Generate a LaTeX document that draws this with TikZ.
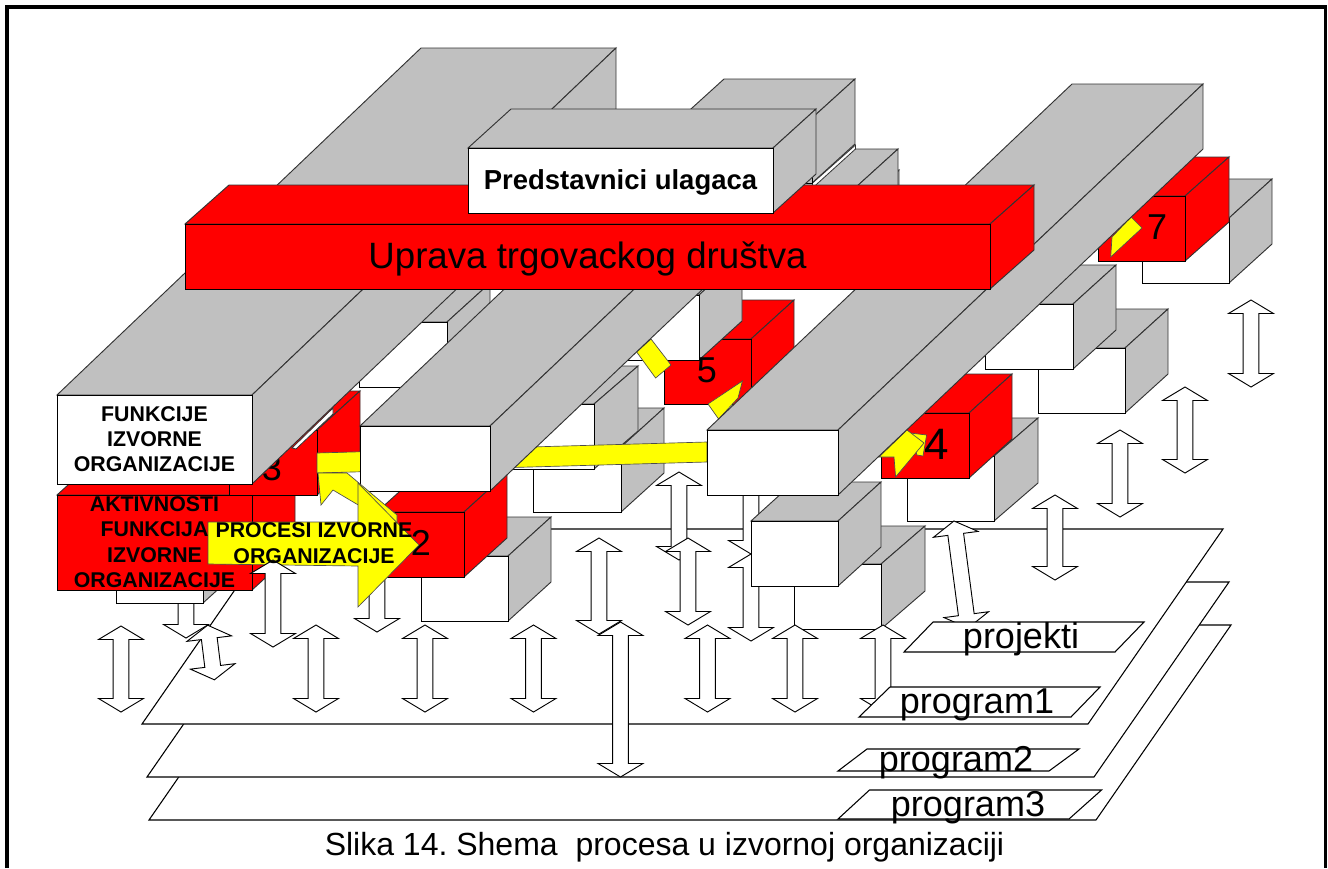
\documentclass[tikz,border=0pt]{standalone}
\usepackage{fontspec}
\setmainfont{Liberation Sans}
\usetikzlibrary{shapes.arrows}
\definecolor{sivo}{HTML}{C0C0C0}
\definecolor{crveno}{HTML}{FF0000}
\definecolor{zuto}{HTML}{FFFF00}
\frenchspacing
\tikzset{
  ploha/.style={draw=black,line width=0.8pt,fill=white},
  zutilo/.style={draw=black!70,line width=0.5pt,fill=zuto},
  updown/.style={double arrow,draw=black,line width=0.7pt,fill=white,inner xsep=0pt,inner ysep=5.6pt,
    double arrow head extend=10.9pt,double arrow tip angle=118,double arrow head indent=0pt},
  veliki/.style={font=\fontsize{27}{31}\selectfont,inner sep=0pt},
  natpis/.style={font=\fontsize{16}{19}\selectfont\bfseries,align=center,inner sep=0pt}
}
\newcommand{\blok}[9]{
  \path[draw=black!80,line width=0.7pt,fill=#3] (#4,#5) -- ({#4+#8},{#5-#9}) -- ({#4+#6+#8},{#5-#9}) -- ({#4+#6},#5) -- cycle;
  \path[draw=black!80,line width=0.7pt,fill=#3] ({#4+#6},#5) -- ({#4+#6+#8},{#5-#9}) -- ({#4+#6+#8},{#5+#7-#9}) -- ({#4+#6},{#5+#7}) -- cycle;
  \node[draw=black,line width=0.7pt,fill=#2,inner sep=0pt,outer sep=0pt,anchor=north west,
    minimum width={#6*0.75pt},minimum height={#7*0.75pt}] (#1) at (#4,#5) {};
}
\begin{document}
\begin{tikzpicture}[x=0.75pt,y=-0.75pt]
\useasboundingbox (0,0) rectangle (1328,868);
\path[draw,line width=2.4pt] (7,868) -- (7,7) -- (1325.5,7) -- (1325.5,868);

\path[ploha] (149,820) -- (284,625) -- (1231,625) -- (1096,820) -- cycle;
\path[ploha] (147,777) -- (282,582) -- (1229,582) -- (1094,777) -- cycle;
\path[ploha] (142,724) -- (277,529) -- (1223,529) -- (1088,724) -- cycle;

\foreach \x/\t/\b [count=\i] in {186/552/638,377/546/632,751/468/554,751/554/641}
  \node[updown,minimum height={(\b-\t)*0.75pt},rotate=90] (iza\i) at (\x,{(\t+\b)/2}) {};

\blok{tri}{sivo}{sivo}{769}{209}{87}{65}{43}{39}
\blok{tdva}{sivo}{sivo}{768}{188}{87}{65}{43}{39}
\path[draw=black!80,line width=0.6pt,fill=white] (855.5,145) -- (855.5,149) -- (812.5,188) -- (812.5,183) -- cycle;
\blok{tjedan}{sivo}{sivo}{681}{118}{131}{65}{43}{39}

\blok{bsedam}{white}{sivo}{1142}{218}{87}{65}{43}{39}
\blok{rsedam}{crveno}{crveno}{1098}{196}{87}{65}{44}{39}
\blok{bdesno}{white}{sivo}{1038}{348}{87}{65}{43}{39}
\blok{bgore}{white}{sivo}{985}{304}{88}{65}{43}{39}
\blok{bcetiri}{white}{sivo}{907}{456}{87}{65}{44}{38}
\blok{rcetiri}{crveno}{crveno}{881}{413}{88}{65}{43}{39}
\blok{bstraga}{white}{sivo}{794}{564}{87}{65}{44}{38}
\blok{bsredina}{white}{sivo}{751}{521}{87}{65}{43}{39}

\blok{bdalje}{white}{sivo}{533}{447}{88}{65}{43}{39}
\blok{bpet}{white}{sivo}{507}{404}{87}{65}{44}{38}
\blok{rpet}{crveno}{crveno}{664}{339}{87}{65}{43}{39}
\blok{bgpet}{white}{sivo}{612}{295}{87}{65}{43}{39}
\blok{bvrh}{white}{sivo}{359}{322}{88}{65}{43}{39}

\node[veliki] (nsedam) at (1157,227) {7};
\node[font=\fontsize{33}{37}\selectfont,inner sep=0pt] (ncetiri) at (936.5,444) {4};
\node[veliki] (npet) at (707,370) {5};

\path[zutilo] (1131,217) -- (1142,228) -- (1110.7,257) -- (1112,237) -- cycle;
\path[zutilo] (910,433) -- (926.6,435) -- (923,456) -- (917,455) -- cycle;
\path[zutilo] (879,457) -- (907,430) -- (924,443) -- (895.6,477) -- (894,457) -- cycle;
\path[zutilo] (651,339) -- (671,365) -- (655.6,378) -- (636.7,352) -- cycle;
\path[zutilo] (742.4,381) -- (738,398) -- (718.6,419) -- (708,404) -- cycle;

\blok{bispod}{white}{sivo}{421}{556}{87}{65}{43}{39}
\blok{rdva}{crveno}{crveno}{377}{512}{87}{65}{43}{39}
\node[veliki] (ndva) at (421,543) {2};

\blok{blijevo}{white}{sivo}{116}{538}{87}{65}{43}{39}
\blok{aktivnosti}{crveno}{crveno}{57}{495}{195}{95}{43}{39}
\blok{rtri}{crveno}{crveno}{229}{430}{88}{65}{43}{39}
\node[veliki] (ntri) at (272,468) {3};
\path[draw=black!80,line width=0.6pt,fill=white] (292,448) -- (333,408) -- (333,414) -- (296,449) -- cycle;

\path[zutilo] (707,442) -- (317,453) -- (317,473) -- (707,462) -- cycle;

\blok{gredad}{white}{sivo}{707}{430}{131}{65}{365}{346}
\blok{gredas}{white}{sivo}{360}{426}{130}{65}{235}{223}
\blok{funkcije}{white}{sivo}{57}{395}{195}{89}{364}{347}

\path[zutilo] (318,473) -- (321,505) -- (333,490) -- (397,528) -- (397,515) -- (347,473) -- cycle;
\path[zutilo] (208,522) -- (358,522) -- (358,483) -- (419,545) -- (358,607) -- (358,566) -- (208,564) -- cycle;

\foreach \x/\t/\b [count=\i] in {121/626/712,273/560/647,316/625/712,425/625/712,533.5/625/712,
    599/538/634,679/472/560,688/538/625,707.5/625/712,620.5/622/777,795/625/712,883/625/712,
    1055/495/580,1120/430/517,1185/387/473,1251/300/387}
  \node[updown,minimum height={(\b-\t)*0.75pt},rotate=90] (ispred\i) at (\x,{(\t+\b)/2}) {};
\node[updown,minimum height={55*0.75pt},rotate=97] (koso1) at (211,652.5) {};
\node[updown,minimum height={108*0.75pt},rotate=97.5] (koso2) at (961,574.5) {};

\path[ploha] (933,622) -- (1144,622) -- (1115,652) -- (904,652) -- cycle;
\path[ploha] (890,687) -- (1100,687) -- (1071,717) -- (859,717) -- cycle;
\path[ploha] (867,749) -- (1079,749) -- (1049,771) -- (838,771) -- cycle;
\path[ploha] (869.5,790) -- (1101.5,790) -- (1069,819) -- (838,819) -- cycle;

\node[veliki] (projekti) at (1021,639) {projekti};
\node[veliki] (program1) at (977,705) {program1};
\node[veliki] (program2) at (956,763) {program2};
\node[veliki] (program3) at (968,808) {program3};

\node[natpis] (tfunkcije) at (154.5,439) {FUNKCIJE\\IZVORNE\\ORGANIZACIJE};
\node[natpis] (taktivnosti) at (154.5,542) {AKTIVNOSTI\\FUNKCIJA\\IZVORNE\\ORGANIZACIJE};
\node[natpis] (tprocesi) at (314,543) {PROCESI IZVORNE\\ORGANIZACIJE};

\blok{uprava}{crveno}{crveno}{185}{224}{805}{65}{44}{39}
\node[font=\fontsize{27.5}{31}\selectfont,inner sep=0pt] (tuprava) at ([yshift=-2pt]uprava.center) {Uprava trgovackog društva};
\blok{predstavnici}{white}{sivo}{468}{148}{305}{65}{43}{39}
\node[font=\fontsize{20.6}{24}\selectfont\bfseries,inner sep=0pt] (tpredstavnici) at ([yshift=-1.5pt]predstavnici.center) {Predstavnici ulagaca};

\node[font=\fontsize{24}{28}\selectfont,inner sep=0pt] (slika) at (664.5,847) {Slika 14. Shema\ \ procesa u izvornoj organizaciji};
\end{tikzpicture}
\end{document}
